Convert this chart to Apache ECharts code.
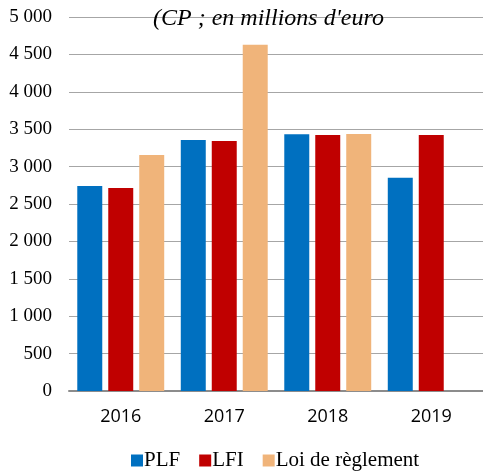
<!DOCTYPE html>
<html>
<head>
<meta charset="utf-8">
<title>CP en millions d'euro</title>
<script type="text/javascript" src="https://cdn.jsdelivr.net/npm/echarts@6/dist/echarts.min.js"></script>
<style>
  html, body { margin: 0; padding: 0; background: #fff; }
  #chart { width: 483px; height: 475px; }
</style>
</head>
<body>
<div id="chart"></div>
<script type="text/javascript">
    var years = ['2016', '2017', '2018', '2019'];
    var plf = [2740, 3356, 3432, 2852];
    var lfi = [2714, 3342, 3422, 3422];
    var loiReglement = [3155, 4630, 3436, null];

    function sep(v) { // 5000 -> "5 000"
        return String(v).replace(/\B(?=(\d{3})+(?!\d))/g, ' ');
    }

    var serif = '"Liberation Serif", "Times New Roman", serif';

    function bar(name, data, color) {
        return {
            name: name,
            type: 'bar',
            data: data,
            barGap: '24%',
            barCategoryGap: '16%',
            itemStyle: { color: color }
        };
    }

    var option = {
        backgroundColor: '#fff',
        animation: false,
        title: {
            text: "(CP ; en millions d'euro",
            left: 148,
            top: 2,
            textStyle: {
                fontFamily: serif,
                fontStyle: 'italic',
                fontWeight: 'normal',
                fontSize: 24,
                color: '#000'
            }
        },
        legend: {
            left: 126,
            top: 445,
            icon: 'rect',
            itemWidth: 12,
            itemHeight: 12,
            itemGap: 19,
            textStyle: {
                fontFamily: serif,
                fontSize: 21,
                color: '#000',
                padding: [0, 0, 0, -4]
            }
        },
        grid: {
            left: 69,
            right: 0,
            top: 17,
            bottom: 84
        },
        xAxis: {
            type: 'category',
            data: years,
            axisTick: { show: false },
            axisLine: { lineStyle: { color: '#8c8c8c', width: 2 } },
            axisLabel: {
                margin: 17,
                fontFamily: '"Open Sans", "DejaVu Sans", sans-serif',
                fontSize: 18,
                color: '#000'
            }
        },
        yAxis: {
            type: 'value',
            min: 0,
            max: 5000,
            interval: 500,
            axisLine: { show: false },
            axisTick: { show: false },
            splitLine: { lineStyle: { color: '#a6a6a6', width: 1 } },
            axisLabel: {
                margin: 17,
                fontFamily: serif,
                fontSize: 19,
                color: '#000',
                formatter: sep
            }
        },
        series: [
            bar('PLF', plf, '#0070c0'),
            bar('LFI', lfi, '#c00000'),
            bar('Loi de règlement', loiReglement, '#f0b47a')
        ]
    };

    var chart = echarts.init(document.getElementById('chart'));
    chart.setOption(option);
</script>
</body>
</html>
